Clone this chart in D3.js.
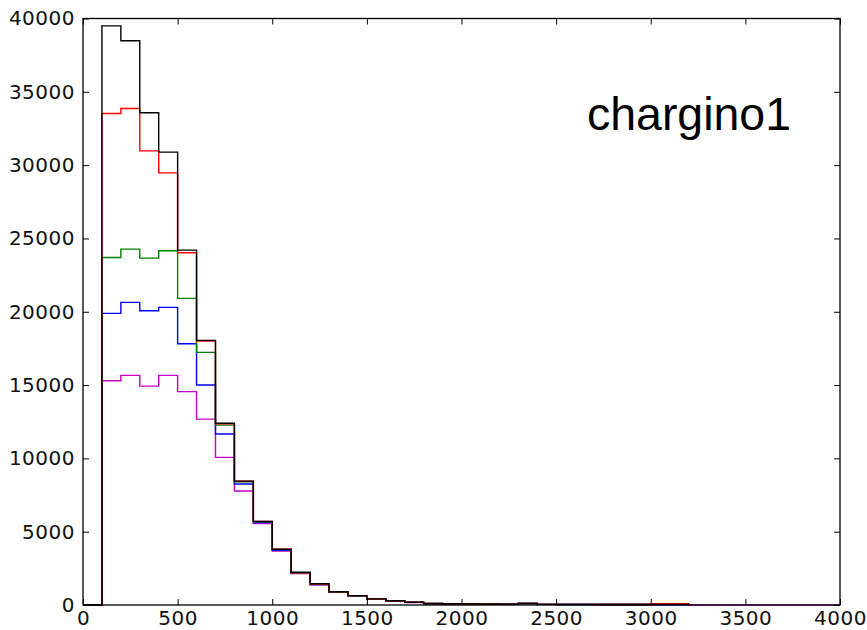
<!DOCTYPE html>
<html>
<head>
<meta charset="utf-8">
<script src="https://cdn.jsdelivr.net/npm/d3@7/dist/d3.min.js"></script>
<style>
  html, body { margin: 0; padding: 0; background: #fff; }
  svg { display: block; }
  .tick text { font-family: "DejaVu Sans", sans-serif; font-size: 20px; letter-spacing: 0.5px; fill: #111; }
</style>
</head>
<body>
<svg id="chart" width="867" height="630"></svg>
<script>
// Histogram bins: 100 GeV wide, starting at 0
const binWidth = 100;
const xTicks = [0, 500, 1000, 1500, 2000, 2500, 3000, 3500, 4000];
const yTicks = [0, 5000, 10000, 15000, 20000, 25000, 30000, 35000, 40000];

// Counts per bin for each sample (index i covers [i*100, (i+1)*100))
const magentaCounts = [0, 15290, 15660, 14930, 15660, 14550, 12680, 10070, 7770, 5560, 3680, 2150, 1380, 860, 610, 390, 270, 170, 90, 80, 70, 60, 50, 100, 40, 30, 30, 30, 30, 30, 30, 30, 0, 0, 0, 0, 0, 0, 0, 0];
const blueCounts    = [0, 19890, 20640, 20070, 20300, 17820, 15000, 11660, 8250, 5620, 3730, 2180, 1400, 880, 620, 400, 280, 180, 90, 80, 70, 60, 50, 100, 40, 30, 30, 30, 30, 30, 30, 30];
const greenCounts   = [0, 23700, 24270, 23660, 24160, 20910, 17230, 12270, 8400, 5680, 3780, 2200, 1420, 890, 630, 410, 280, 180, 100, 80, 70, 60, 50, 100, 40, 30, 30, 30, 30, 30, 30, 30];
const redCounts     = [0, 33520, 33860, 30970, 29470, 24020, 18000, 12350, 8450, 5700, 3800, 2200, 1430, 900, 640, 420, 290, 190, 100, 90, 80, 70, 50, 100, 40, 40, 40, 30, 30, 30, 90, 90];
const blackCounts   = [0, 39500, 38480, 33570, 30890, 24200, 18050, 12400, 8450, 5700, 3800, 2230, 1450, 900, 640, 420, 290, 190, 100, 90, 80, 70, 50, 110, 40, 40, 40, 30, 30, 30, 40, 40];

const seriesNames  = ["magenta", "blue", "green", "red", "black"];
const seriesCounts = [magentaCounts, blueCounts, greenCounts, redCounts, blackCounts];
const seriesColors = ["#c800c8", "#0000ff", "#008000", "#ff0000", "#000000"];

const titleText = "chargino1";

const svg = d3.select("#chart");
const plotLeft = 83, plotRight = 840, plotTop = 18.5, plotBottom = 605;

const x = d3.scaleLinear().domain([0, 4000]).range([plotLeft, plotRight]);
const y = d3.scaleLinear().domain([0, 40000]).range([plotBottom, plotTop]);

// Step outline of a histogram, open at both ends on the baseline
function stepPath(counts) {
  const p = d3.path();
  p.moveTo(x(0), y(0));
  counts.forEach((v, i) => {
    p.lineTo(x(i * binWidth), y(v));
    p.lineTo(x((i + 1) * binWidth), y(v));
  });
  p.lineTo(x(counts.length * binWidth), y(0));
  return p.toString();
}

const plot = svg.append("g");
seriesCounts.forEach((counts, k) => {
  plot.append("path")
    .attr("class", "hist " + seriesNames[k])
    .attr("d", stepPath(counts))
    .attr("fill", "none")
    .attr("stroke", seriesColors[k])
    .attr("stroke-width", 1.4)
    .attr("stroke-linejoin", "miter");
});

// Axes with inward ticks on all four sides
const tickLen = 6;
const axBottom = d3.axisBottom(x).tickValues(xTicks).tickSizeInner(-tickLen).tickSizeOuter(0).tickPadding(6).tickFormat(d3.format("d"));
const axTop = d3.axisTop(x).tickValues(xTicks).tickSizeInner(-tickLen).tickSizeOuter(0).tickFormat("");
const axLeft = d3.axisLeft(y).tickValues(yTicks).tickSizeInner(-tickLen).tickSizeOuter(0).tickPadding(8).tickFormat(d3.format("d"));
const axRight = d3.axisRight(y).tickValues(yTicks).tickSizeInner(-tickLen).tickSizeOuter(0).tickFormat("");

function styleAxis(g) {
  g.select(".domain").remove();
  g.selectAll(".tick line").attr("stroke", "#000").attr("stroke-width", 1);
}

svg.append("g").attr("transform", `translate(0,${plotBottom})`).call(axBottom).call(styleAxis);
svg.append("g").attr("transform", `translate(0,${plotTop})`).call(axTop).call(styleAxis);
svg.append("g").attr("transform", `translate(${plotLeft},0)`).call(axLeft).call(styleAxis);
svg.append("g").attr("transform", `translate(${plotRight},0)`).call(axRight).call(styleAxis);

// Frame
svg.append("rect")
  .attr("x", plotLeft).attr("y", plotTop)
  .attr("width", plotRight - plotLeft).attr("height", plotBottom - plotTop)
  .attr("fill", "none").attr("stroke", "#000").attr("stroke-width", 1.3);

// Label
svg.append("text")
  .attr("x", 587).attr("y", 130)
  .attr("font-family", "'Liberation Sans', Arial, sans-serif")
  .attr("font-size", 47)
  .attr("textLength", 204)
  .attr("lengthAdjust", "spacingAndGlyphs")
  .attr("fill", "#000")
  .text(titleText);
</script>
</body>
</html>
